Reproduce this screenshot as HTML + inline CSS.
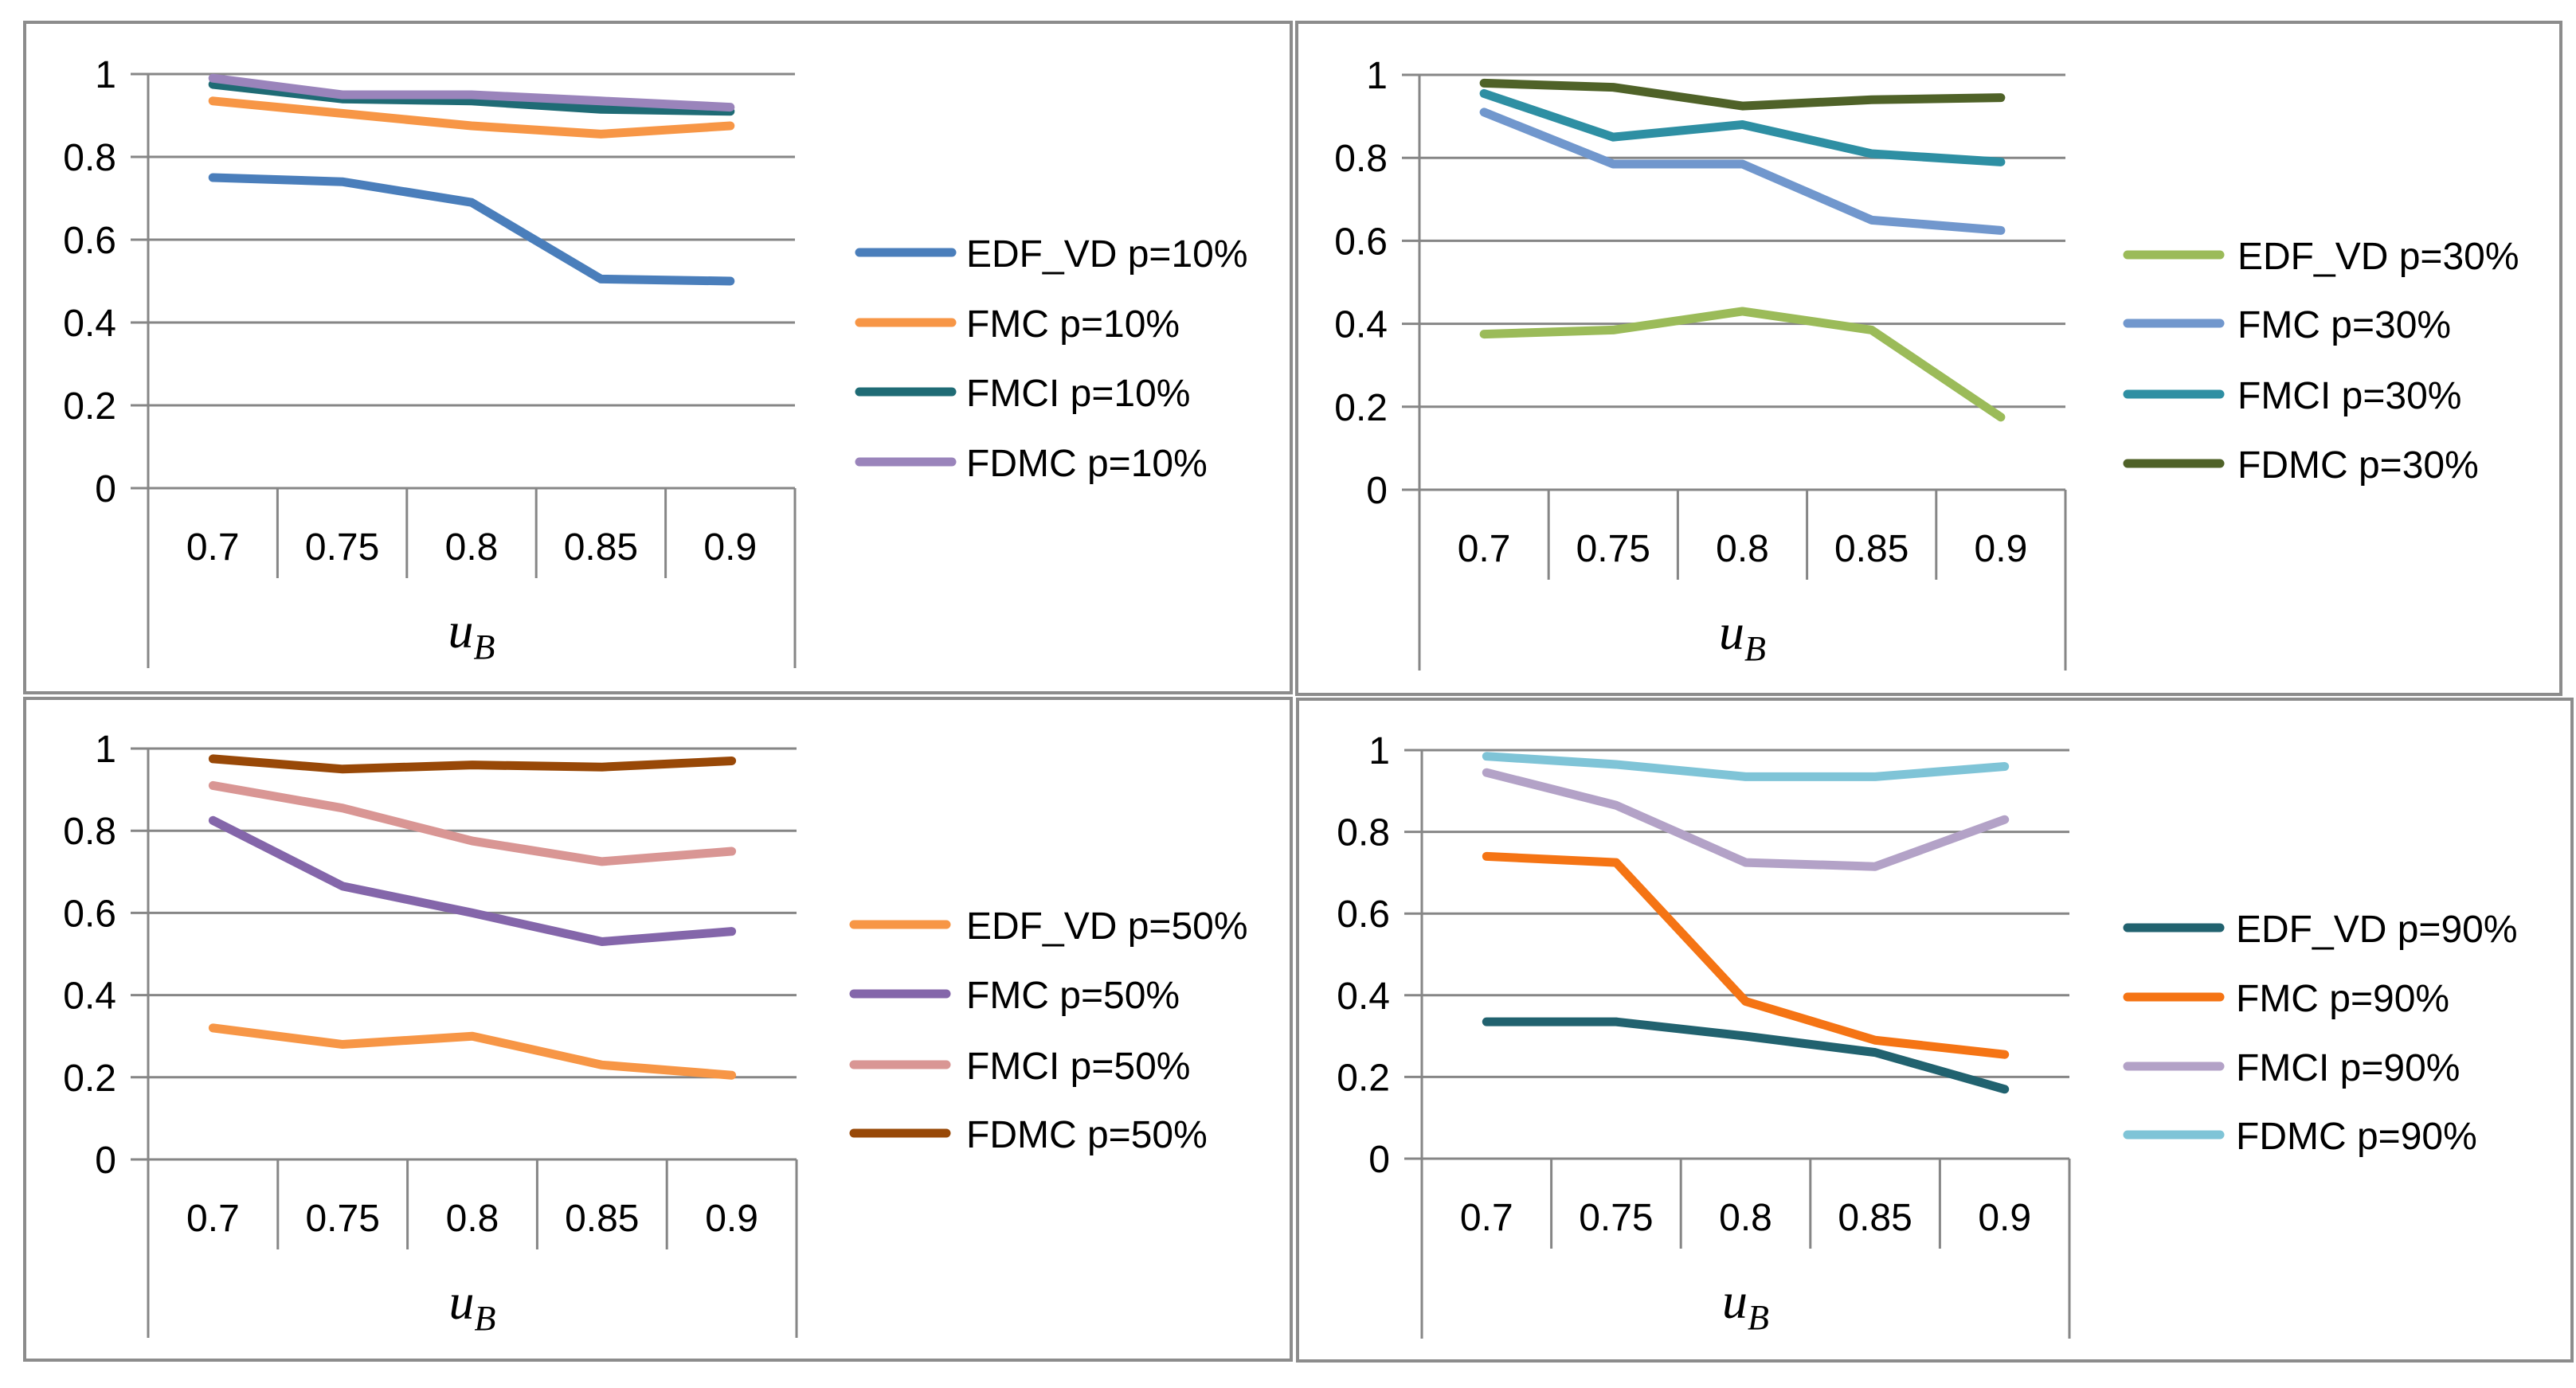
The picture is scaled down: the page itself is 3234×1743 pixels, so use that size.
<!DOCTYPE html>
<html><head><meta charset="utf-8"><style>
html,body{margin:0;padding:0;background:#fff;}
svg{display:block;font-family:"Liberation Sans",sans-serif;}
</style></head><body>
<svg id="fig" width="3234" height="1743" viewBox="0 0 3234 1743" xmlns="http://www.w3.org/2000/svg"></svg>
<script>
const categories = ["0.7","0.75","0.8","0.85","0.9"];
const yTicks = [0,0.2,0.4,0.6,0.8,1];
const yTickLabels = ["0","0.2","0.4","0.6","0.8","1"];
const seriesNames = ["EDF_VD","FMC","FMCI","FDMC"];
const pLabels = ["p=10%","p=30%","p=50%","p=90%"];
const tlValues = [[0.75,0.74,0.69,0.505,0.50],[0.935,0.905,0.875,0.855,0.875],[0.975,0.94,0.935,0.915,0.91],[0.99,0.95,0.95,0.935,0.92]];
const trValues = [[0.375,0.385,0.43,0.385,0.175],[0.91,0.785,0.785,0.65,0.625],[0.955,0.85,0.88,0.81,0.79],[0.98,0.97,0.925,0.94,0.945]];
const blValues = [[0.32,0.28,0.30,0.23,0.205],[0.825,0.665,0.6,0.53,0.555],[0.91,0.855,0.775,0.725,0.75],[0.975,0.95,0.96,0.955,0.97]];
const brValues = [[0.335,0.335,0.30,0.26,0.17],[0.74,0.725,0.385,0.29,0.255],[0.945,0.865,0.725,0.715,0.83],[0.985,0.965,0.935,0.935,0.96]];

const NS="http://www.w3.org/2000/svg";
const svg=document.getElementById('fig');
function mk(tag,attrs,parent){const e=document.createElementNS(NS,tag);for(const k in attrs)e.setAttribute(k,attrs[k]);(parent||svg).appendChild(e);return e;}

const panels=[
 {name:'panel-p10',vals:tlValues,p:0,colors:['#4a7ebb','#f79646','#1f6b75','#9a84bb'],box:[31,28,1621,870],ax:186,rx:998,y1:93,y0:613,bot:839,lx:1079,ltx:1213,ly:[317,405,492,580]},
 {name:'panel-p30',vals:trValues,p:1,colors:['#9bbb59','#7197cd','#2e8fa3','#4f6228'],box:[1628,28,3215,872],ax:1782,rx:2593,y1:94,y0:615,bot:842,lx:2671,ltx:2809,ly:[320,406,495,582]},
 {name:'panel-p50',vals:blValues,p:2,colors:['#f79646','#8466aa','#d99694','#984807'],box:[31,877,1621,1708],ax:186,rx:1000,y1:940,y0:1456,bot:1680,lx:1072,ltx:1213,ly:[1161,1248,1337,1423]},
 {name:'panel-p90',vals:brValues,p:3,colors:['#21626f','#f57414','#b3a2c7','#7fc4d7'],box:[1629,878,3229,1709],ax:1785,rx:2598,y1:942,y0:1455,bot:1681,lx:2671,ltx:2807,ly:[1165,1252,1339,1425]}
];

panels.forEach(P=>{
  const g=mk('g',{});
  
  
  const b=P.box;
  const r=mk('rect',{x:b[0],y:b[1],width:b[2]-b[0],height:b[3]-b[1],fill:'#fff',stroke:'#8c8c8c','stroke-width':4},g);
  
  
  const yS=v=>P.y0+(P.y1-P.y0)*v;
  const cw=(P.rx-P.ax)/categories.length;
  const xS=i=>P.ax+cw*(i+0.5);
  yTicks.forEach((t,i)=>{
    const l=mk('line',{x1:P.ax-22,x2:P.rx,y1:yS(t),y2:yS(t),stroke:'#868686','stroke-width':3},g);
    
    
    const tx=mk('text',{x:P.ax-40,y:yS(t)+17,'text-anchor':'end','font-size':48,fill:'#000'},g);
    tx.textContent=yTickLabels[i];
    
    
  });
  const ya=mk('line',{x1:P.ax,x2:P.ax,y1:P.y1,y2:P.bot,stroke:'#868686','stroke-width':3},g);
  
  
  const ra=mk('line',{x1:P.rx,x2:P.rx,y1:P.y0,y2:P.bot,stroke:'#868686','stroke-width':3},g);
  
  
  for(let i=1;i<categories.length;i++){
    const d=mk('line',{x1:P.ax+cw*i,x2:P.ax+cw*i,y1:P.y0,y2:P.y0+113,stroke:'#868686','stroke-width':3},g);
    
    
  }
  categories.forEach((c,i)=>{
    const t=mk('text',{x:xS(i),y:P.y0+90,'text-anchor':'middle','font-size':48,fill:'#000'},g);
    t.textContent=c;
    
    
  });
  const xt=mk('text',{x:(P.ax+P.rx)/2,y:P.y0+200,'text-anchor':'middle','font-size':64,'font-family':'"Liberation Serif",serif','font-style':'italic',fill:'#000'},g);
  xt.innerHTML='u<tspan font-size="44" dy="14">B</tspan>';
  
  
  P.vals.forEach((vals,s)=>{
    const pts=vals.map((v,i)=>xS(i)+','+yS(v)).join(' ');
    const pl=mk('polyline',{points:pts,fill:'none',stroke:P.colors[s],'stroke-width':11,'stroke-linejoin':'round','stroke-linecap':'round'},g);
    
    
    const lg=mk('g',{},g);
    
    
    mk('line',{x1:P.lx,x2:P.lx+116,y1:P.ly[s],y2:P.ly[s],stroke:P.colors[s],'stroke-width':11,'stroke-linecap':'round'},lg);
    const lt=mk('text',{x:P.ltx,y:P.ly[s]+18,'font-size':48,fill:'#000'},lg);
    lt.textContent=seriesNames[s]+' '+pLabels[P.p];
  });
});
</script>
</body></html>
